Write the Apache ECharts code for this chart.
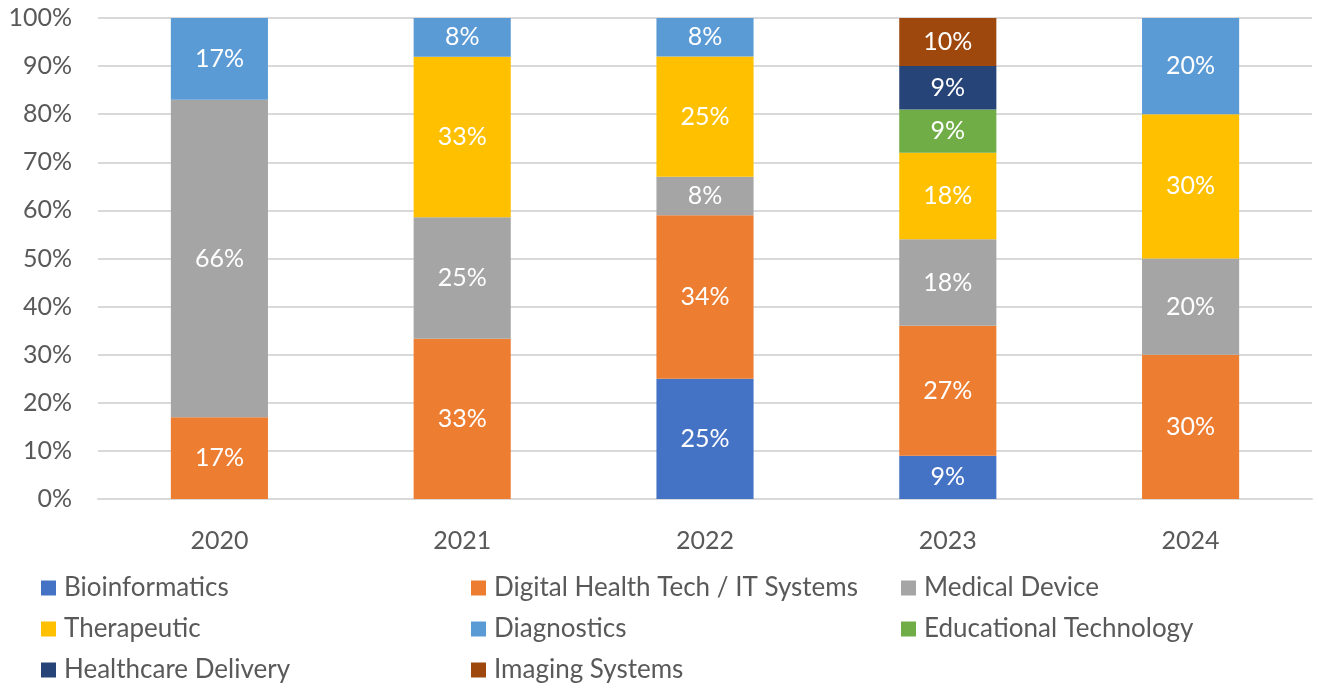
<!DOCTYPE html>
<html>
<head>
<meta charset="utf-8">
<script src="https://cdn.jsdelivr.net/npm/echarts@6/dist/echarts.min.js"></script>
<style>
  html, body { margin: 0; padding: 0; background: #fff; }
  #chart { width: 1319px; height: 688px; }
</style>
</head>
<body>
<div id="chart"></div>
<script>
// Share of projects per category and year (percent, as labelled)
const years = ['2020', '2021', '2022', '2023', '2024'];
const bioinformatics     = [null, null, 25, 9, null];
const digitalHealth      = [17, 33, 34, 27, 30];
const medicalDevice      = [66, 25, 8, 18, 20];
const therapeutic        = [null, 33, 25, 18, 30];
const diagnostics        = [17, 8, 8, null, 20];
const educationalTech    = [null, null, null, 9, null];
const healthcareDelivery = [null, null, null, 9, null];
const imagingSystems     = [null, null, null, 10, null];
const yTicks = [0, 10, 20, 30, 40, 50, 60, 70, 80, 90, 100];

const seriesDefs = [
  { name: 'Bioinformatics', values: bioinformatics, color: '#4472C4' },
  { name: 'Digital Health Tech / IT Systems', values: digitalHealth, color: '#ED7D31' },
  { name: 'Medical Device', values: medicalDevice, color: '#A5A5A5' },
  { name: 'Therapeutic', values: therapeutic, color: '#FFC000' },
  { name: 'Diagnostics', values: diagnostics, color: '#5B9BD5' },
  { name: 'Educational Technology', values: educationalTech, color: '#70AD47' },
  { name: 'Healthcare Delivery', values: healthcareDelivery, color: '#264478' },
  { name: 'Imaging Systems', values: imagingSystems, color: '#9E480E' }
];

// 100% stacking: each year's column is scaled to fill the axis
const totals = years.map((_, i) =>
  seriesDefs.reduce((s, d) => s + (d.values[i] || 0), 0));

const FONT = 'Lato, "Open Sans", sans-serif';
const TEXT = '#595959';

const series = seriesDefs.map(d => ({
  name: d.name,
  type: 'bar',
  stack: 'share',
  barWidth: '40%',
  itemStyle: { color: d.color },
  label: {
    show: true,
    position: 'inside',
    color: '#fff',
    fontFamily: FONT,
    fontSize: 25,
    padding: [4, 0, 0, 0],
    formatter: p => d.values[p.dataIndex] + '%'
  },
  data: d.values.map((v, i) => v == null ? null : v / totals[i] * 100)
}));

const legendCommon = {
  orient: 'vertical',
  top: 573,
  padding: 0,
  icon: 'rect',
  itemWidth: 15,
  itemHeight: 15,
  itemGap: 11,
  textStyle: { color: TEXT, fontFamily: FONT, fontSize: 26, lineHeight: 30, padding: [0, 0, 0, 3] },
  selectedMode: false
};

const chart = echarts.init(document.getElementById('chart'), null, { renderer: 'canvas' });
chart.setOption({
  animation: false,
  backgroundColor: '#fff',
  grid: { left: 98, right: 7, top: 18, bottom: 189, containLabel: false },
  legend: [
    Object.assign({ left: 41, data: ['Bioinformatics', 'Therapeutic', 'Healthcare Delivery'] }, legendCommon),
    Object.assign({ left: 471, data: ['Digital Health Tech / IT Systems', 'Diagnostics', 'Imaging Systems'] }, legendCommon),
    Object.assign({ left: 901, data: ['Medical Device', 'Educational Technology'] }, legendCommon)
  ],
  xAxis: {
    type: 'category',
    data: years,
    axisLine: { show: true, lineStyle: { color: '#D9D9D9', width: 2 } },
    axisTick: { show: false },
    axisLabel: { color: TEXT, fontFamily: FONT, fontSize: 25, margin: 29 }
  },
  yAxis: {
    type: 'value',
    min: yTicks[0],
    max: yTicks[yTicks.length - 1],
    interval: 10,
    axisLine: { show: false },
    axisTick: { show: false },
    splitLine: { lineStyle: { color: '#D9D9D9', width: 2 } },
    axisLabel: { color: TEXT, fontFamily: FONT, fontSize: 25, margin: 26, formatter: v => v + '%' }
  },
  series: series
});
</script>
</body>
</html>
